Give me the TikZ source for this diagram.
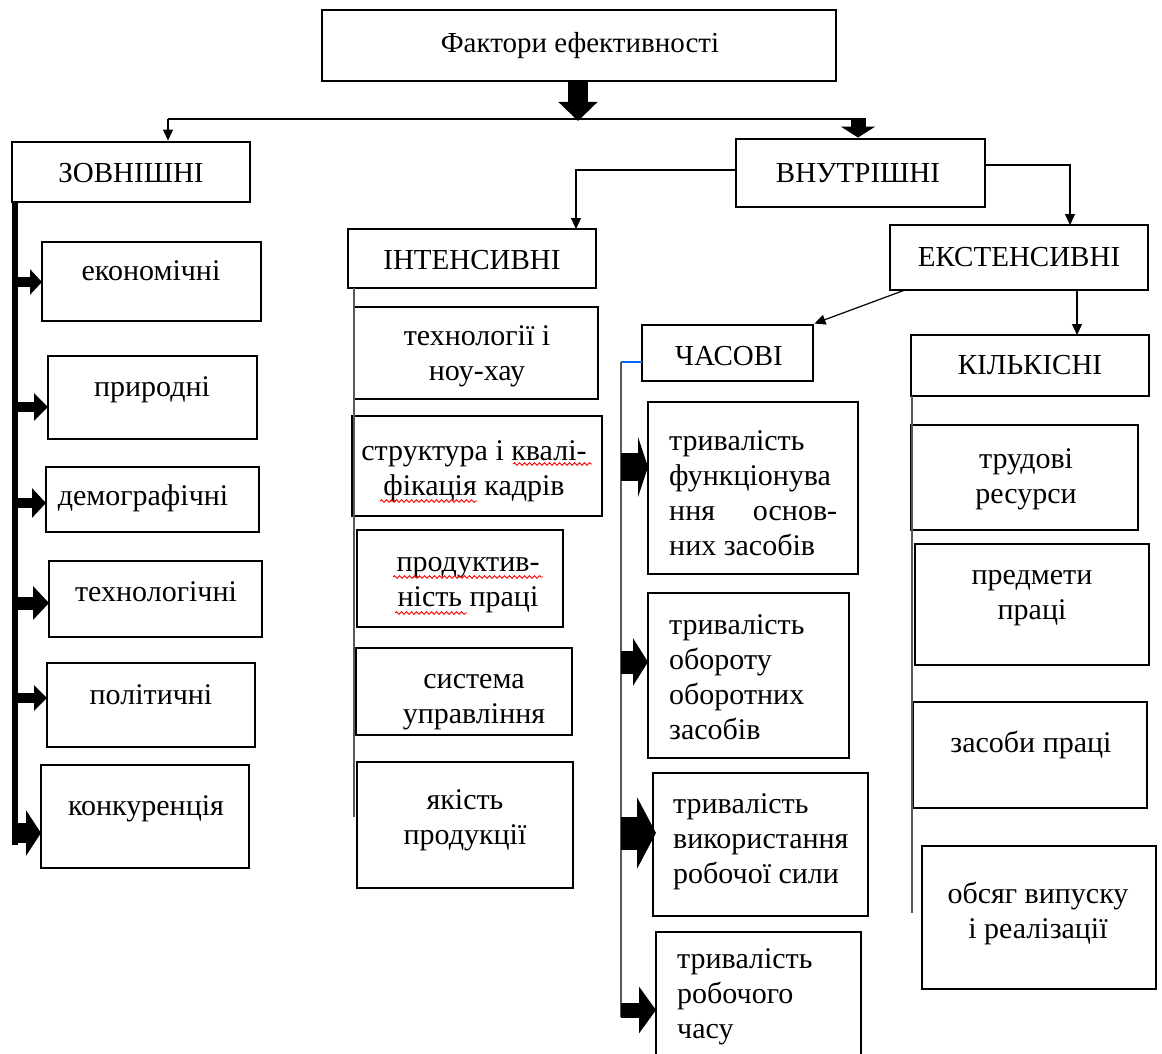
\documentclass[tikz,border=0pt]{standalone}
\usepackage{fontspec}
\setmainfont{Liberation Serif}
\usetikzlibrary{arrows.meta,decorations.pathmorphing}
\newcommand\bx[5]{\node[bx, minimum width={(#4)-(#2)}, minimum height={(#5)-(#3)}] (#1) at ({((#2)+(#4))/2},{((#3)+(#5))/2}) {};}
\begin{document}
\begin{tikzpicture}[x=1pt,y=-1pt,
  bx/.style={draw,line width=2.9pt,inner sep=0pt},
  lbl/.style={inner sep=0pt,align=center,font=\fontsize{30}{35}\selectfont},
  lbll/.style={inner sep=0pt,align=left,font=\fontsize{30}{35}\selectfont},
  captxt/.style={inner sep=0pt,font=\fontsize{29}{35}\selectfont},
  conn/.style={line width=1.2pt},
  tarrow/.style={-{Triangle[length=11pt,width=10pt]}},
  greyline/.style={line width=1.4pt, black!65},
  squig/.style={red, line width=0.9pt, decorate, decoration={snake,amplitude=1.3pt,segment length=5pt}}
]
\useasboundingbox (0,0) rectangle (1162,1054);
\clip (0,0) rectangle (1162,1054);

% boxes
\bx{title}{322}{10}{836}{81}
\bx{zovn}{12}{142}{250}{202}
\bx{vnut}{736}{139}{985}{207}
\bx{inten}{348}{229}{596}{288}
\bx{ext}{890}{225}{1148}{290}
\bx{chas}{642}{325}{813}{381}
\bx{kilk}{911}{335}{1149}{396}
\bx{econ}{42}{242}{261}{321}
\bx{pryr}{48}{356}{257}{439}
\bx{demo}{46}{467}{259}{532}
\bx{tech}{49}{561}{262}{637}
\bx{poli}{47}{663}{255}{747}
\bx{konk}{41}{765}{249}{868}
\bx{tnh}{354}{307}{598}{399}
\bx{stru}{352}{416}{602}{516}
\bx{prod}{357}{530}{563}{627}
\bx{syst}{356}{648}{572}{735}
\bx{yak}{357}{762}{573}{888}
\bx{tf}{648}{402}{858}{574}
\bx{to}{648}{593}{849}{758}
\bx{tv}{653}{773}{868}{916}
\bx{tr}{656}{932}{861}{1090}
\bx{trud}{911}{425}{1138}{530}
\bx{pred}{915}{544}{1149}{665}
\bx{zas}{913}{702}{1147}{808}
\bx{obs}{922}{846}{1156}{989}

% texts
\node[captxt] (t0) at (580,46) {Фактори ефективності};
\node[captxt] (t1) at (131,173) {ЗОВНІШНІ};
\node[captxt] (t2) at (858,173) {ВНУТРІШНІ};
\node[captxt] (t3) at (472,260) {ІНТЕНСИВНІ};
\node[captxt] (t4) at (1019,257) {ЕКСТЕНСИВНІ};
\node[captxt] (t5) at (729,356) {ЧАСОВІ};
\node[captxt] (t6) at (1030,365) {КІЛЬКІСНІ};

\node[lbl] (l1) at (151,271) {економічні};
\node[lbl] (l2) at (152,390) {природні};
\node[lbl] (l3) at (143,498) {демографічні};
\node[lbl] (l4) at (156,592) {технологічні};
\node[lbl] (l5) at (151,695) {політичні};
\node[lbl] (l6) at (146,809) {конкуренція};

\node[lbl] (m1) at (477,356) {технології і\\ноу-хау};
\node[lbl] (m2) at (474,471) {структура і квалі-\\фікація кадрів};
\node[lbl] (m3) at (468,585) {продуктив-\\ність праці};
\node[lbl] (m4) at (474,702) {система\\управління};
\node[lbl] (m5) at (465,820) {якість\\продукції};

\node[lbll,anchor=west] (c1) at (669,493) {тривалість\\функціонува\\\hbox to 168pt{ння\hfil основ-}\\них засобів};
\node[lbll,anchor=west] (c2) at (669,677) {тривалість\\обороту\\оборотних\\засобів};
\node[lbll,anchor=west] (c3) at (673,842) {тривалість\\використання\\робочої сили};
\node[lbll,anchor=west] (c4) at (677,997) {тривалість\\робочого\\часу};

\node[lbl] (r1) at (1026,479) {трудові\\ресурси};
\node[lbl] (r2) at (1032,598) {предмети\\праці};
\node[lbl] (r3) at (1031,745) {засоби праці};
\node[lbl] (r4) at (1038,913) {обсяг випуску\\і реалізації};

% spelling squiggles
\draw[squig] (513,464) -- (592,464);
\draw[squig] (380,501) -- (477,501);
\draw[squig] (393,577) -- (543,577);
\draw[squig] (395,613) -- (467,613);

% top connectors
\coordinate (hub) at (578,121);
\coordinate (hl) at (168,119);
\coordinate (hr) at (866,119);
\coordinate (vr) at (858,119);
\draw[line width=20pt,-{Triangle[length=19pt,width=38pt]}] (title.south -| hub) -- (hub);
\draw[conn] (hl) -- (hr);
\draw[conn,tarrow] (hl) -- (zovn.north -| hl);
\draw[line width=15pt,-{Triangle[length=11pt,width=34pt]}] (vr) -- (vnut.north -| vr);

\coordinate (vl) at (736,170);
\coordinate (ia) at (576,229);
\draw[conn,tarrow] (vl) -| (ia);
\coordinate (vre) at (985,165);
\coordinate (ea) at (1070,225);
\draw[conn,tarrow] (vre) -| (ea);

\coordinate (es) at (905,290);
\draw[conn,tarrow] (es) -- (chas.north east);
\coordinate (ks) at (1077,290);
\coordinate (ke) at (1077,335);
\draw[conn,tarrow] (ks) -- (ke);

% left column
\coordinate (zv) at (15,202);
\coordinate (zvb) at (15,845);
\draw[line width=6pt] (zv) -- (zvb);
\coordinate (z1) at (42,282);
\coordinate (z2) at (48,407);
\coordinate (z3) at (46,503);
\coordinate (z4) at (49,603);
\coordinate (z5) at (47,698);
\coordinate (z6) at (41,833);
\draw[line width=10pt,-{Triangle[length=12pt,width=25pt]}] (z1 -| zv) -- (z1);
\draw[line width=10pt,-{Triangle[length=14pt,width=27pt]}] (z2 -| zv) -- (z2);
\draw[line width=10pt,-{Triangle[length=14pt,width=29pt]}] (z3 -| zv) -- (z3);
\draw[line width=13pt,-{Triangle[length=16pt,width=33pt]}] (z4 -| zv) -- (z4);
\draw[line width=10pt,-{Triangle[length=13pt,width=25pt]}] (z5 -| zv) -- (z5);
\draw[line width=20pt,-{Triangle[length=15pt,width=45pt]}] (z6 -| zv) -- (z6);

% intensive column line
\coordinate (iv1) at (354,288);
\coordinate (iv2) at (354,817);
\draw[greyline] (iv1) -- (iv2);

% time column
\coordinate (cw) at (642,362);
\coordinate (cv) at (621,362);
\coordinate (cvb) at (621,1017);
\draw[line width=1.2pt, blue!60!cyan] (cw) -- (cv);
\draw[greyline] (cv) -- (cvb);
\coordinate (a1) at (648,467);
\coordinate (a2) at (648,662);
\coordinate (a3) at (656,833);
\coordinate (a4) at (656,1010);
\draw[line width=28pt,-{Triangle[length=10pt,width=60pt]}] (a1 -| cv) -- (a1);
\draw[line width=23pt,-{Triangle[length=15pt,width=47pt]}] (a2 -| cv) -- (a2);
\draw[line width=33pt,-{Triangle[length=19pt,width=71pt]}] (a3 -| cv) -- (a3);
\draw[line width=15pt,-{Triangle[length=17pt,width=46pt]}] (a4 -| cv) -- (a4);

% quantitative column line
\coordinate (kv1) at (912,396);
\coordinate (kv2) at (912,913);
\draw[greyline] (kv1) -- (kv2);
\end{tikzpicture}
\end{document}
